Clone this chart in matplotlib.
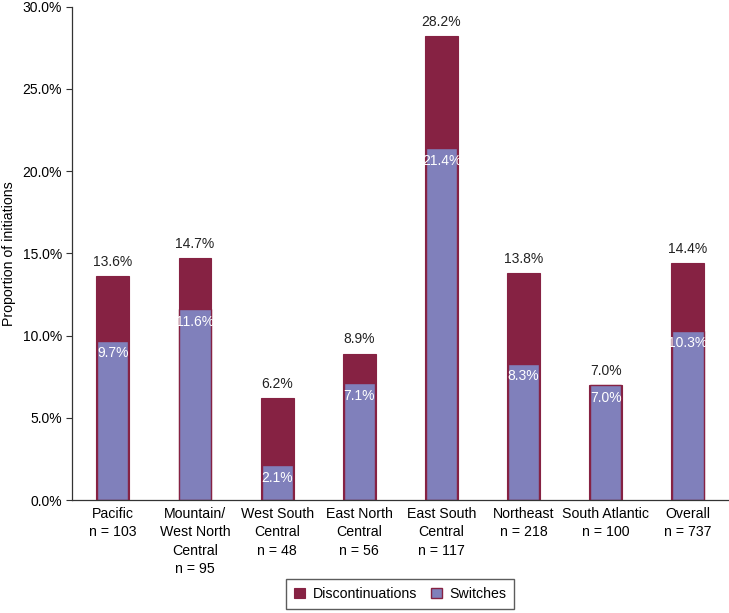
import matplotlib.pyplot as plt
import numpy as np

plt.rcParams['font.family'] = ['Liberation Sans', 'DejaVu Sans']

regions = ["Pacific\nn = 103", "Mountain/\nWest North\nCentral\nn = 95", "West South\nCentral\nn = 48",
           "East North\nCentral\nn = 56", "East South\nCentral\nn = 117", "Northeast\nn = 218",
           "South Atlantic\nn = 100", "Overall\nn = 737"]
total = [13.6, 14.7, 6.2, 8.9, 28.2, 13.8, 7.0, 14.4]
switches = [9.7, 11.6, 2.1, 7.1, 21.4, 8.3, 7.0, 10.3]

crimson = '#862243'
purple = '#8080BB'

fig = plt.figure(figsize=(7.29, 6.13), dpi=100)
ax = fig.add_axes([0.0984, 0.1843, 0.9016, 0.8047])

x = np.arange(len(regions))
w = 0.4
ax.bar(x, total, width=w, color=crimson, edgecolor=crimson, linewidth=0.8, label='Discontinuations')
ax.bar(x, switches, width=w - 0.02, color=purple, edgecolor=crimson, linewidth=1.0, label='Switches')

for i in range(len(regions)):
    ax.text(x[i], total[i] + 0.45, f"{total[i]:.1f}%", ha='center', va='bottom', fontsize=10, color='#222222')
    ax.text(x[i], switches[i] - 0.35, f"{switches[i]:.1f}%", ha='center', va='top', fontsize=10, color='white')

ax.set_xlim(-0.5, 7.5)
ax.set_ylim(0, 30)
ax.set_yticks(np.arange(0, 31, 5))
ax.set_yticklabels([f"{v:.1f}%" for v in np.arange(0, 31, 5)], fontsize=10)
ax.set_xticks(x)
ax.set_xticklabels(regions, fontsize=10.2, va='top', linespacing=1.4)
ax.tick_params(axis='x', length=0, pad=5)
ax.tick_params(axis='y', length=4, width=0.8, color='#333333', pad=3)
ax.set_ylabel("Proportion of initiations", fontsize=10.2, labelpad=5)
for s in ['top', 'right']:
    ax.spines[s].set_visible(False)
for s in ['left', 'bottom']:
    ax.spines[s].set_color('#333333')
    ax.spines[s].set_linewidth(0.9)

fig.legend(loc='center', bbox_to_anchor=(0.549, 0.031), ncol=2, fontsize=10.2, frameon=True,
           fancybox=False, edgecolor='#333333', handlelength=0.8, handleheight=0.8,
           columnspacing=1.0, handletextpad=0.5, borderpad=0.55)

fig.savefig('out.png', dpi=100)
